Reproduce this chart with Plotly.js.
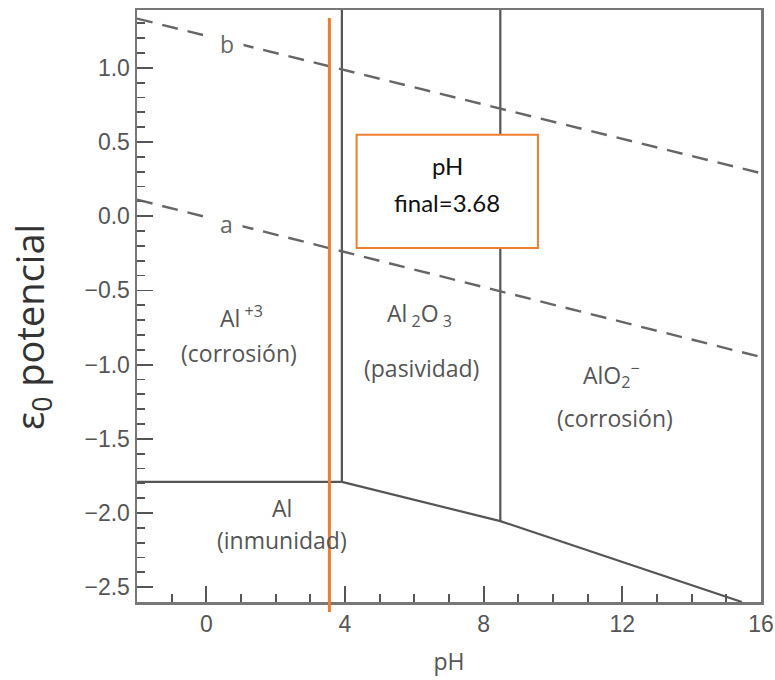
<!DOCTYPE html>
<html>
<head>
<meta charset="utf-8">
<script src="https://cdn.plot.ly/plotly-3.0.1.min.js"></script>
<style>html,body{margin:0;padding:0;background:#fff;}#chart{width:775px;height:680px;}</style>
</head>
<body>
<div id="chart"></div>
<script>
// Boundaries of the Al Pourbaix diagram (pH, potential V)
const immunityFlatX = [-2, 3.91];
const immunityFlatY = [-1.79, -1.79];
const immunitySlopeX = [3.91, 8.48, 15.45];
const immunitySlopeY = [-1.79, -2.055, -2.6];
const boundary1X = [3.91, 3.91];
const boundary1Y = [-1.79, 1.39];
const boundary2X = [8.48, 8.48];
const boundary2Y = [-2.055, 1.39];
const waterBX = [-2, 16];
const waterBY = [1.332, 0.29];
const waterAX = [-2, 16];
const waterAY = [0.112, -0.949];
const phFinalLine = 3.55;
const boxLines = ["pH", "final=3.68"];
const boxLineY = [0.345, 0.09];

const xTicks = [0, 4, 8, 12, 16];
const yTicks = [1.0, 0.5, 0.0, -0.5, -1.0, -1.5, -2.0, -2.5];
const yTitle = "ε<sub>0</sub> potencial";
const xTitle = "pH";

// Region labels
const regionText = ["Al<sup> +3</sup>", "(corrosión)", "Al<sub> 2</sub>O<sub> 3</sub>", "(pasividad)", "AlO<sub>2</sub><sup>−</sup>", "(corrosión)", "Al", "(inmunidad)"];
const regionX = [1.0, 0.93, 6.14, 6.2, 11.7, 11.8, 2.19, 2.19];
const regionY = [-0.68, -0.922, -0.66, -1.023, -1.07, -1.36, -1.965, -2.18];

const lineLabels = ["b", "a"];
const lineLabelX = [0.59, 0.59];
const lineLabelY = [1.16, -0.05];

const boxX = [4.335, 9.566];
const boxY = [-0.214, 0.55];

const solid = {color: '#555555', width: 2.2};
const dashed = {color: '#666666', width: 2.4, dash: '16px,10px'};

const traces = [
  {x: immunityFlatX, y: immunityFlatY, mode: 'lines', line: solid, hoverinfo: 'skip'},
  {x: immunitySlopeX, y: immunitySlopeY, mode: 'lines', line: solid, hoverinfo: 'skip'},
  {x: boundary1X, y: boundary1Y, mode: 'lines', line: solid, hoverinfo: 'skip'},
  {x: boundary2X, y: boundary2Y, mode: 'lines', line: solid, hoverinfo: 'skip'},
  {x: waterBX, y: waterBY, mode: 'lines', line: dashed, hoverinfo: 'skip'},
  {x: waterAX, y: waterAY, mode: 'lines', line: dashed, hoverinfo: 'skip'}
];

const annotations = [];
regionText.forEach((t, i) => {
  annotations.push({x: regionX[i], y: regionY[i], xref: 'x', yref: 'y', text: t, showarrow: false,
    font: {family: 'Open Sans', size: 23, color: '#555555'}});
});
lineLabels.forEach((t, i) => {
  annotations.push({x: lineLabelX[i], y: lineLabelY[i], xref: 'x', yref: 'y', text: t, showarrow: false,
    bgcolor: '#ffffff', borderpad: 9, font: {family: 'Open Sans', size: 23, color: '#666666'}});
});
boxLines.forEach((t, i) => {
  annotations.push({x: (boxX[0] + boxX[1]) / 2, y: boxLineY[i], xref: 'x', yref: 'y', text: t,
    showarrow: false, font: {family: 'Lato', size: 24, color: '#111111'}});
});
// y-axis title placed as rotated text left of the tick labels
annotations.push({x: -0.168, y: 0.465, xref: 'paper', yref: 'paper', xanchor: 'center', yanchor: 'middle',
  text: yTitle, textangle: -90,
  showarrow: false, font: {family: 'Open Sans', size: 38, color: '#333333'}});

const shapes = [
  {type: 'line', xref: 'x', yref: 'paper', x0: phFinalLine, x1: phFinalLine, y0: -0.017, y1: 0.9865,
   line: {color: '#ED7D31', width: 3}, layer: 'above'},
  {type: 'rect', xref: 'x', yref: 'y', x0: boxX[0], x1: boxX[1], y0: boxY[0], y1: boxY[1],
   fillcolor: '#ffffff', line: {color: '#ED7D31', width: 2}, layer: 'above'}
];

const axisCommon = {
  showgrid: false, zeroline: false, showline: true, mirror: true,
  linecolor: '#777777', linewidth: 2.5, ticks: 'inside', ticklen: 16, tickwidth: 1.8, tickcolor: '#555555',
  tickfont: {family: 'Liberation Sans', size: 23, color: '#555555'}
};

const layout = {
  width: 775, height: 680,
  margin: {l: 137, r: 14, t: 10, b: 78},
  paper_bgcolor: '#ffffff', plot_bgcolor: '#ffffff',
  showlegend: false,
  xaxis: Object.assign({}, axisCommon, {
    range: [-2, 16], tickmode: 'array', tickvals: xTicks, ticktext: xTicks.map(String),
    minor: {dtick: 1, tick0: 0, ticks: 'inside', ticklen: 8, tickwidth: 1.8, tickcolor: '#555555'},
    title: {text: xTitle, font: {family: 'Open Sans', size: 23, color: '#555555'}, standoff: 18}
  }),
  yaxis: Object.assign({}, axisCommon, {
    range: [-2.6, 1.39], tickmode: 'array', tickvals: yTicks, ticktext: yTicks.map(v => v.toFixed(1).replace('-', '−')),
    minor: {dtick: 0.1, tick0: 0, ticks: 'inside', ticklen: 8, tickwidth: 1.8, tickcolor: '#555555'}
  }),
  annotations: annotations,
  shapes: shapes
};

Plotly.newPlot('chart', traces, layout, {displayModeBar: false, staticPlot: true});
</script>
</body>
</html>
